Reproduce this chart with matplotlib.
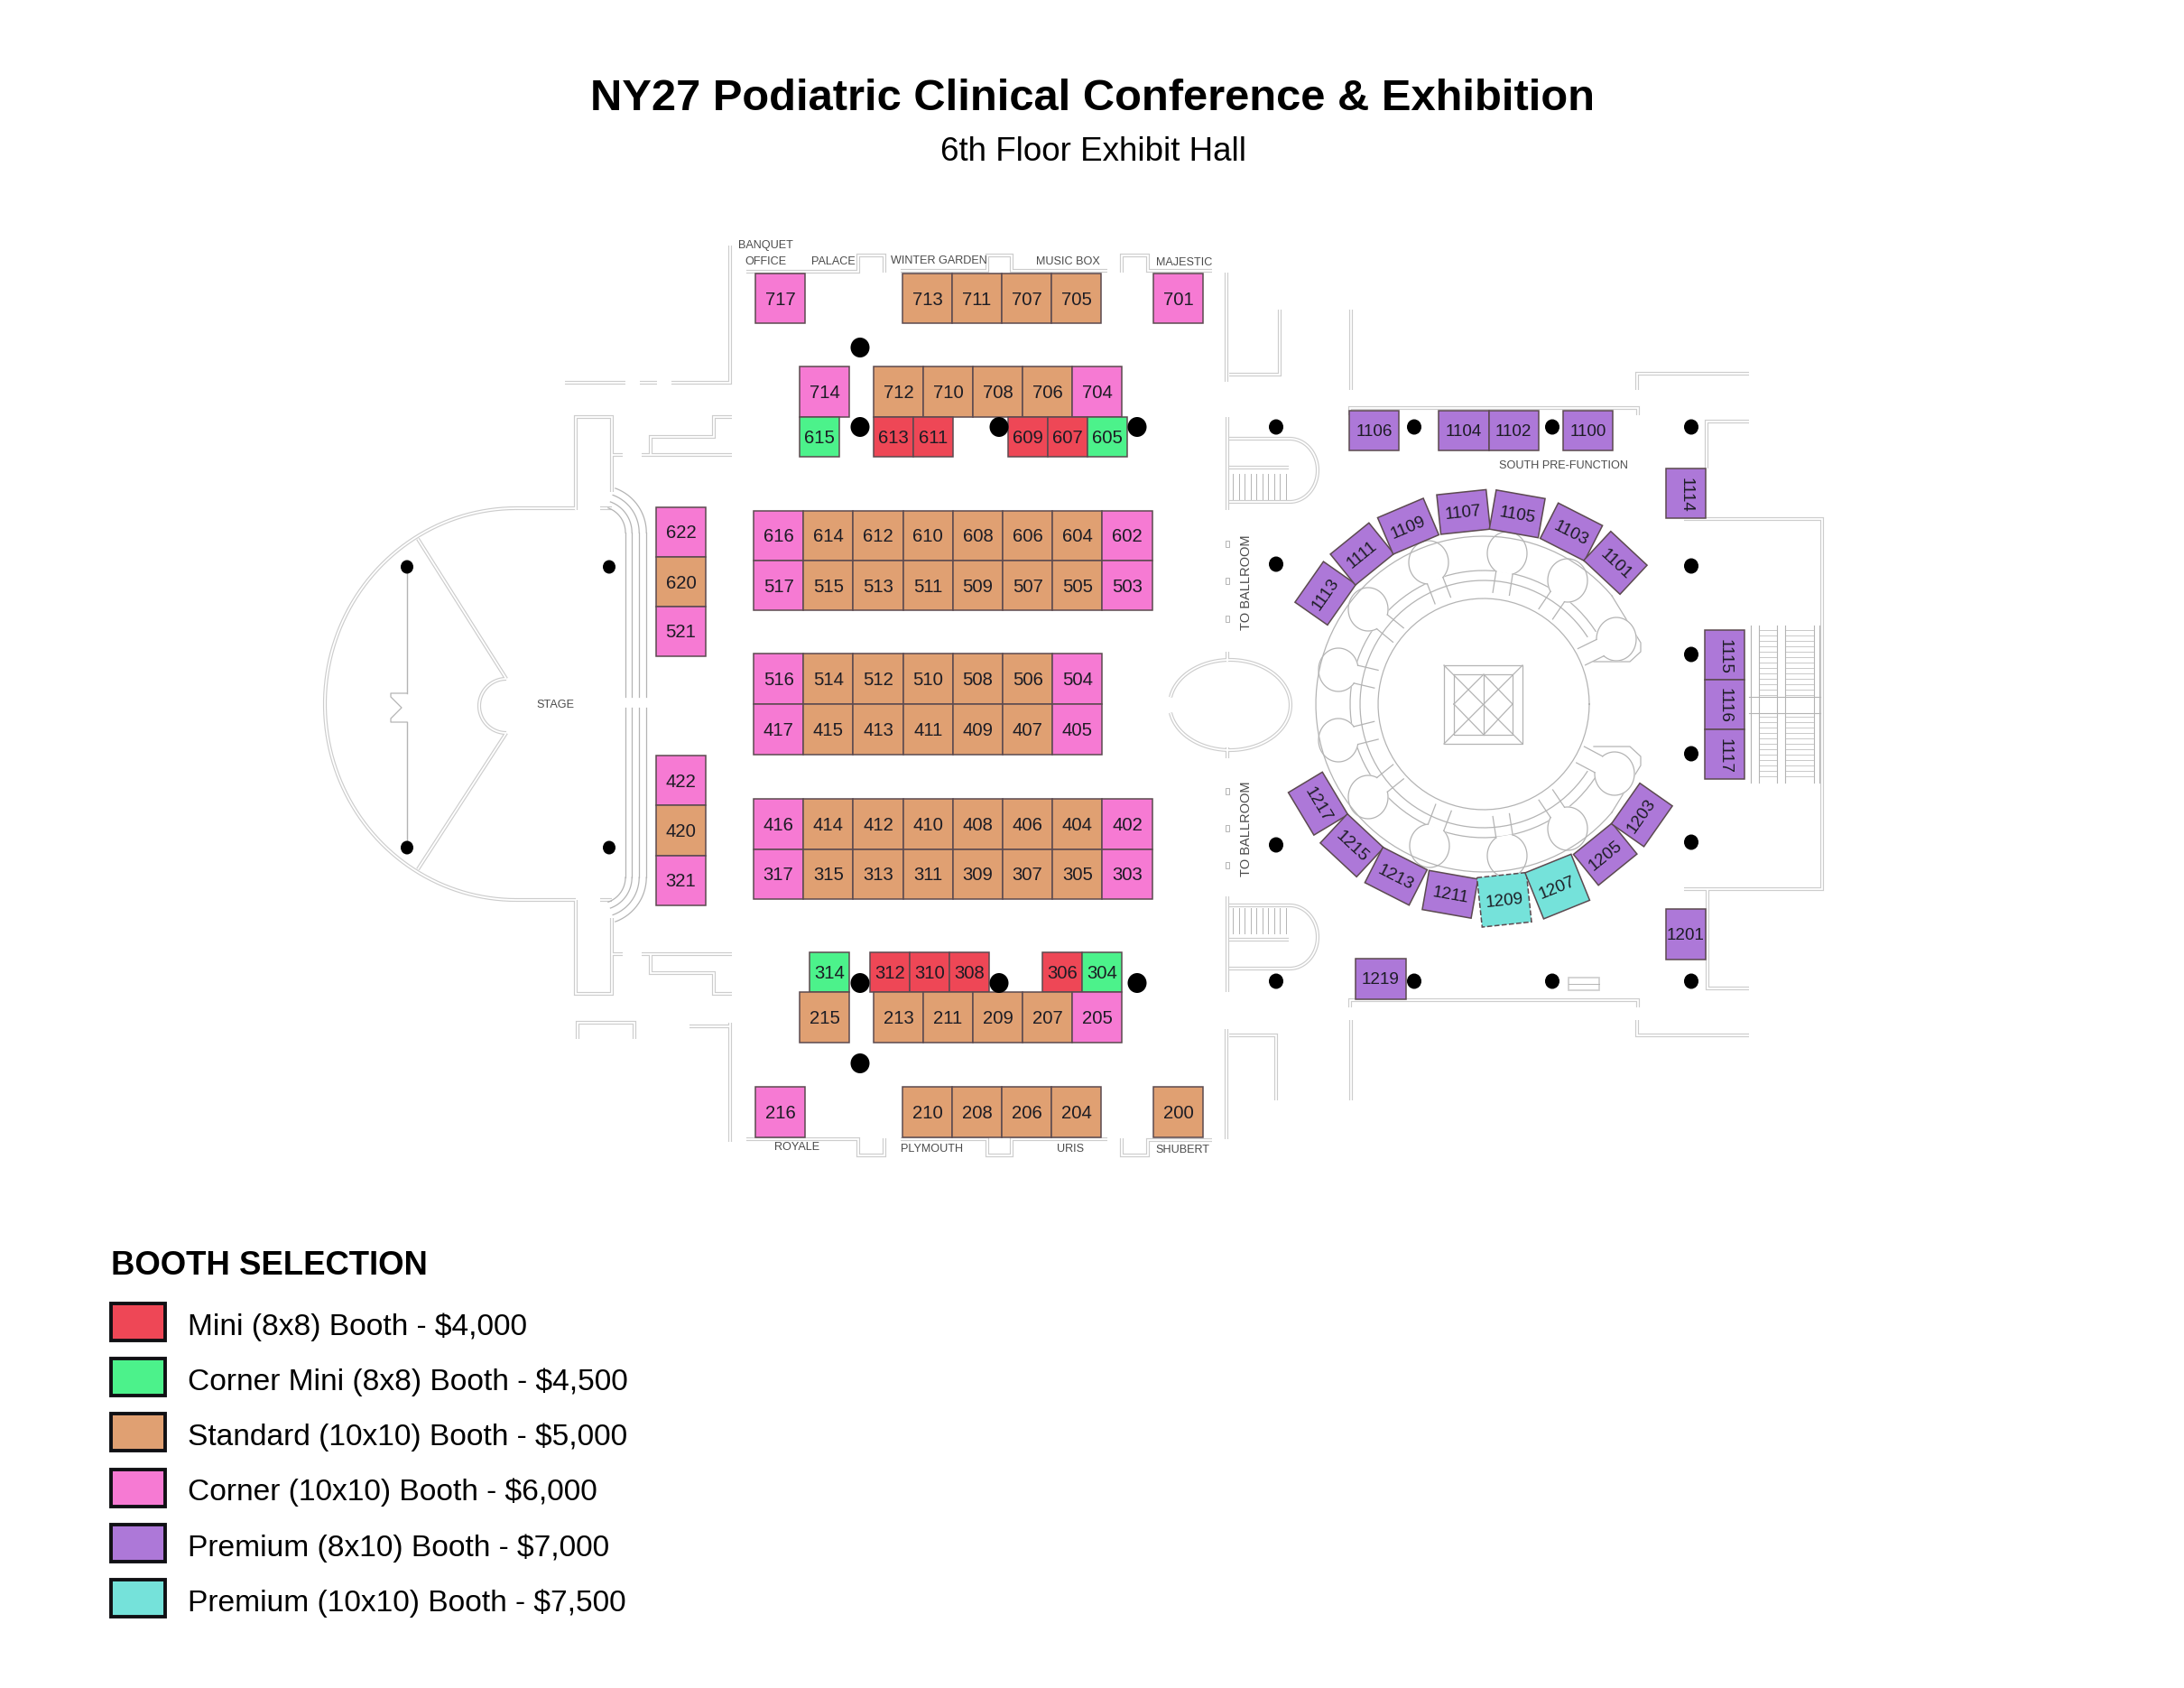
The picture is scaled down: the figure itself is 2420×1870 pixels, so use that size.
import numpy as np
import matplotlib
matplotlib.use('Agg')
import matplotlib.pyplot as plt
from matplotlib.patches import Rectangle, Polygon, Ellipse

# booth numbers and price class, row by row
# M mini, C corner mini, S standard, K corner, P premium 8x10, T premium 10x10
r717 = ['717']
r713 = ['713', '711', '707', '705']
r701 = ['701']
r714 = ['714']
r712 = ['712', '710', '708', '706', '704']
r712_kinds = ['S', 'S', 'S', 'S', 'K']
r615 = ['615']
r613 = ['613', '611']
r609 = ['609', '607', '605']
r609_kinds = ['M', 'M', 'C']
col622 = ['622', '620', '521']
col622_kinds = ['K', 'S', 'K']
r616 = ['616', '614', '612', '610', '608', '606', '604', '602']
r517 = ['517', '515', '513', '511', '509', '507', '505', '503']
r516 = ['516', '514', '512', '510', '508', '506', '504']
r417 = ['417', '415', '413', '411', '409', '407', '405']
col422 = ['422', '420', '321']
col422_kinds = ['K', 'S', 'K']
r416 = ['416', '414', '412', '410', '408', '406', '404', '402']
r317 = ['317', '315', '313', '311', '309', '307', '305', '303']
r314 = ['314']
r312 = ['312', '310', '308']
r306 = ['306', '304']
r306_kinds = ['M', 'C']
r215 = ['215']
r213 = ['213', '211', '209', '207', '205']
r213_kinds = ['S', 'S', 'S', 'S', 'K']
r216 = ['216']
r210 = ['210', '208', '206', '204']
r200 = ['200']
r1106 = ['1106']
r1104 = ['1104', '1102']
r1100 = ['1100']
col1115 = ['1115', '1116', '1117']
ring_top = ['1113', '1111', '1109', '1107', '1105', '1103', '1101']
ring_bottom = ['1217', '1215', '1213', '1211', '1209', '1207', '1205', '1203']
ring_bottom_kinds = ['P', 'P', 'P', 'P', 'T', 'T', 'P', 'P']

legend_names = ['Mini (8x8) Booth - $4,000', 'Corner Mini (8x8) Booth - $4,500',
                'Standard (10x10) Booth - $5,000', 'Corner (10x10) Booth - $6,000',
                'Premium (8x10) Booth - $7,000', 'Premium (10x10) Booth - $7,500']
legend_kinds = ['M', 'C', 'S', 'K', 'P', 'T']
colors = {'M': '#ee4756', 'C': '#4cf28b', 'S': '#e0a072',
          'K': '#f67ad3', 'P': '#ad78d8', 'T': '#75e2da'}

plt.rcParams['font.family'] = ['Liberation Sans', 'DejaVu Sans']

fig = plt.figure(figsize=(24.2, 18.7), dpi=100)
ax = fig.add_axes([0, 0, 1, 1])
ax.set_xlim(0, 2420)
ax.set_ylim(1870, 0)
ax.axis('off')

EDGE = '#5c4a50'
WALL = '#cdcdcd'
THIN = '#b4b4b4'


def wall(xs, ys):
    # double line look: thick grey with white core
    ax.plot(xs, ys, color=WALL, lw=3.0, solid_joinstyle='miter', solid_capstyle='butt', zorder=1)
    ax.plot(xs, ys, color='white', lw=1.3, solid_joinstyle='miter', solid_capstyle='butt', zorder=1.1)


def thin(xs, ys, lw=0.9, z=1.2):
    ax.plot(xs, ys, color=THIN, lw=lw, zorder=z)


def arc_pts(cx, cy, rx, ry, t0, t1):
    t = np.radians(np.linspace(t0, t1, 90))
    return cx + rx * np.cos(t), cy - ry * np.sin(t)


def label(x, y, txt, rot=0):
    size = 14.6 if len(txt) == 3 else 13.6
    ax.text(x, y + 1.5, txt, ha='center', va='center', rotation=rot, rotation_mode='anchor',
            fontsize=size, color='#1c1c24', zorder=4)


def row(labels, kinds, x0, y0, w, h):
    if isinstance(kinds, str):
        kinds = [kinds] * len(labels)
    for i, (b, k) in enumerate(zip(labels, kinds)):
        ax.add_patch(Rectangle((x0 + i * w, y0), w, h, fc=colors[k], ec=EDGE, lw=1.1, zorder=3))
        label(x0 + i * w + w / 2, y0 + h / 2, b)


def col(labels, kinds, x0, y0, w, h, rot=0):
    if isinstance(kinds, str):
        kinds = [kinds] * len(labels)
    for i, (b, k) in enumerate(zip(labels, kinds)):
        ax.add_patch(Rectangle((x0, y0 + i * h), w, h, fc=colors[k], ec=EDGE, lw=1.1, zorder=3))
        label(x0 + w / 2, y0 + i * h + h / 2, b, rot=rot)


def tilted(cx, cy, rot, w, h, b, k):
    a = np.radians(rot)
    pts = []
    for u, v in [(-w / 2, -h / 2), (w / 2, -h / 2), (w / 2, h / 2), (-w / 2, h / 2)]:
        pts.append((cx + u * np.cos(a) + v * np.sin(a), cy - u * np.sin(a) + v * np.cos(a)))
    ls = '--' if b == '1209' else '-'
    ax.add_patch(Polygon(pts, closed=True, fc=colors[k], ec=EDGE, lw=1.1, ls=ls, zorder=3))
    label(cx, cy, b, rot=rot)


def dot(x, y, r):
    ax.add_patch(Ellipse((x, y), 2 * r, 2 * r + 1, fc='black', ec='none', zorder=3.5))


def room(x, y, txt, rot=0, size=9.1):
    ax.text(x, y, txt, ha='center', va='center', rotation=rot, fontsize=size,
            color='#4a4a4a', zorder=2)


# ---------- building outline, left block ----------
wall([626, 693], [424, 424])
wall([709, 728], [424, 424])
wall([744, 809, 809], [424, 424, 272])
wall([827, 951, 951, 980, 980], [301, 301, 283, 283, 302])
wall([998, 1094, 1094, 1121, 1121, 1227], [300, 300, 283, 283, 300, 300])
wall([1243, 1243, 1272, 1272, 1343], [302, 283, 283, 300, 300])
wall([1359, 1359], [302, 423])
wall([1362, 1418, 1418], [415, 415, 343])
wall([1497, 1497], [343, 432])

wall([809, 809], [1133, 1265])
wall([764, 809], [1137, 1137])
wall([640, 640, 703, 703], [1151, 1133, 1133, 1151])
wall([827, 951, 951, 980, 980], [1262, 1262, 1280, 1280, 1261])
wall([998, 1094, 1094, 1121, 1121, 1227], [1262, 1262, 1280, 1280, 1262, 1262])
wall([1243, 1243, 1272, 1272, 1343], [1261, 1280, 1280, 1263, 1263])
wall([1359, 1359], [1140, 1262])
wall([1362, 1414, 1414], [1147, 1147, 1219])
wall([1497, 1497], [1130, 1219])

# side rooms next to the stage
wall([678, 690], [504, 504])
wall([711, 811], [504, 504])
wall([721, 721, 791, 791, 811], [504, 484, 484, 462, 462])
wall([678, 690], [1057, 1057])
wall([711, 811], [1057, 1057])
wall([721, 721, 791, 791, 811], [1057, 1078, 1078, 1101, 1101])

# stage
wall([638, 638, 678, 678], [565, 462, 462, 545])
wall([638, 638, 678, 678], [997, 1101, 1101, 1017])
wall([572, 638], [563, 563])
wall([665, 678], [563, 563])
wall([572, 638], [997, 997])
wall([665, 678], [997, 997])
xs, ys = arc_pts(572, 780, 212, 217, 90, 270)
wall(xs, ys)
thin([451, 451], [628, 768], 1.0)
thin([451, 433, 433, 445, 433, 433, 451], [768, 768, 772, 784, 796, 800, 800], 0.9)
thin([451, 451], [800, 939], 1.0)
wall([463, 561], [597, 752])
xs, ys = arc_pts(561, 782, 30, 30, 90, 270)
wall(xs, ys)
wall([561, 463], [812, 963])

# curved steps at the stage front
for off in [0, 9, 19, 29]:
    xs, ys = arc_pts(664, 590, 29 + off * 0.8, 29 + off * 0.8, 0, 70)
    thin(xs, ys, 0.9)
    xs, ys = arc_pts(664, 972, 29 + off * 0.8, 29 + off * 0.8, 290, 360)
    thin(xs, ys, 0.9)
    thin([693 + off * 0.8] * 2, [590, 772], 0.9)
    thin([693 + off * 0.8] * 2, [784, 972], 0.9)

# ---------- lobby oval and stairs ----------
xs, ys = arc_pts(1363, 781, 67, 50, -170, 170)
wall(xs, ys)
wall([1360, 1360], [722, 733])
wall([1360, 1360], [828, 840])

wall([1360, 1360], [462, 565])
wall([1360, 1360], [993, 1099])
for y0, flip in [(521, 1), (1038, -1)]:
    xs, ys = arc_pts(1429, y0, 31, 35, -90, 90)
    wall([1362] + list(xs) + [1362], [y0 + 35] + list(ys) + [y0 - 35])
    wall([1362, 1428], [y0 - 3 * flip, y0 - 3 * flip])
    for x in np.arange(1366, 1426, 6.5):
        thin([x, x], [y0 + 4 * flip, y0 + 32 * flip], 0.7)

for y in [602, 643, 685, 876, 917, 958]:
    ax.add_patch(Rectangle((1358, y - 3), 4, 7, fc='white', ec=THIN, lw=0.7, zorder=1.2))

# ---------- right block ----------
wall([1496, 1496, 1815, 1815], [460, 452, 452, 460])
wall([1814, 1814, 1938], [432, 414, 414])
wall([1938, 1891, 1891], [467, 467, 519])
wall([1866, 2019, 2019, 1866], [575, 575, 985, 985])
wall([1892, 1892, 1938], [985, 1095, 1095])
wall([1496, 1496, 1815, 1815], [1116, 1108, 1108, 1116])
wall([1814, 1814, 1938], [1130, 1147, 1147])
ax.add_patch(Rectangle((1738, 1083), 34, 14, fc='white', ec=WALL, lw=1.2, zorder=1.2))
thin([1738, 1772], [1090, 1090], 0.7)

# escalators
for x in [1940, 1949, 1969, 1978, 2010, 2016]:
    thin([x, x], [693, 867], 0.8)
thin([1938, 2017], [772, 772], 0.8)
thin([1938, 2017], [790, 790], 0.8)
for y in list(np.arange(698, 772, 6)) + list(np.arange(794, 866, 6)):
    thin([1949, 1969], [y, y], 0.5)
    thin([1978, 2010], [y, y], 0.5)

# rotunda
CX, CY = 1644, 780
xs, ys = arc_pts(CX, CY, 117, 117, 0, 360)
thin(xs, ys)
for r in [137, 148]:
    xs, ys = arc_pts(CX, CY, r, r, 33, 327)
    thin(xs, ys)
for sx, sy in [(1583, 623), (1670, 613), (1737, 643), (1791, 708), (1516, 675), (1483, 742),
               (1483, 820), (1516, 883), (1584, 937), (1670, 948), (1737, 918), (1789, 857)]:
    # balloon shapes around the ring, neck towards the centre
    ang = np.degrees(np.arctan2(-(CY - sy), CX - sx))
    xs, ys = arc_pts(sx, sy, 22, 24, ang + 25, ang + 335)
    ax.fill(xs, ys, color='white', zorder=1.25)
    thin(xs, ys, z=1.3)
    thin([xs[0], xs[0] + (CX - sx) * 0.14], [ys[0], ys[0] + (CY - sy) * 0.14], z=1.3)
    thin([xs[-1], xs[-1] + (CX - sx) * 0.14], [ys[-1], ys[-1] + (CY - sy) * 0.14], z=1.3)
xs, ys = arc_pts(CX, CY, 186, 186, 40, 320)
thin(xs, ys, z=1.3)
thin([1786, 1818, 1818, 1806, 1766], [660, 712, 722, 733, 733])
thin([1786, 1818, 1818, 1806, 1766], [900, 848, 838, 827, 827])

thin([1600, 1687, 1687, 1600, 1600], [737, 737, 824, 824, 737])
thin([1611, 1676, 1676, 1611, 1611], [747, 747, 814, 814, 747])
thin([1600, 1687], [737, 824])
thin([1600, 1687], [824, 737])
thin([1611, 1644, 1676, 1644, 1611], [780, 747, 780, 814, 780])
thin([1644, 1644], [747, 814])

# ---------- booths ----------
row(r717, 'K', 837, 303, 55, 55)
row(r713, 'S', 1000, 303, 55, 55)
row(r701, 'K', 1278, 303, 55, 55)
row(r714, 'K', 886, 406, 55, 56)
row(r712, r712_kinds, 968, 406, 55, 56)
row(r615, 'C', 886, 462, 44, 44)
row(r613, 'M', 968, 462, 44, 44)
row(r609, r609_kinds, 1117, 462, 44, 44)
col(col622, col622_kinds, 727, 562, 55, 55)
row(r616, ['K'] + ['S'] * 6 + ['K'], 835, 566, 55.2, 55)
row(r517, ['K'] + ['S'] * 6 + ['K'], 835, 621, 55.2, 55)
row(r516, ['K'] + ['S'] * 5 + ['K'], 835, 724, 55.2, 56)
row(r417, ['K'] + ['S'] * 5 + ['K'], 835, 780, 55.2, 56)
col(col422, col422_kinds, 727, 837, 55, 55.3)
row(r416, ['K'] + ['S'] * 6 + ['K'], 835, 885, 55.2, 55.5)
row(r317, ['K'] + ['S'] * 6 + ['K'], 835, 940.5, 55.2, 55.5)
row(r314, 'C', 897, 1055, 44, 44)
row(r312, 'M', 964, 1055, 44, 44)
row(r306, r306_kinds, 1155, 1055, 44, 44)
row(r215, 'S', 886, 1099, 55, 56)
row(r213, r213_kinds, 968, 1099, 55, 56)
row(r216, 'K', 837, 1204, 55, 56)
row(r210, 'S', 1000, 1204, 55, 56)
row(r200, 'S', 1278, 1204, 55, 56)

row(r1106, 'P', 1495, 455, 55, 44)
row(r1104, 'P', 1594, 455, 55.5, 44)
row(r1100, 'P', 1732, 455, 55, 44)
col(['1114'], 'P', 1846, 519, 44, 55, rot=-90)
col(col1115, 'P', 1889, 698, 44, 55, rot=-90)
col(['1201'], 'P', 1846, 1007, 44, 56)
row(['1219'], 'P', 1502, 1062, 56, 45)

# ring booths, turned around the rotunda centre
for b, rot in zip(ring_top, [55, 39, 23, 6, -10, -27, -43]):
    a = np.radians(rot)
    tilted(CX - 214 * np.sin(a), CY - 214 * np.cos(a), rot, 55, 44, b, 'P')
for b, k, rot in zip(ring_bottom, ring_bottom_kinds, [-59, -43, -27, -10, 6, 22, 39, 55]):
    a = np.radians(rot)
    r = 218 if k == 'T' else 214
    h = 55 if k == 'T' else 44
    tilted(CX + r * np.sin(a), CY + r * np.cos(a), rot, 55, h, b, k)

# ---------- columns ----------
for x, y in [(953, 385), (953, 473), (1107, 473), (1260, 473),
             (953, 1089), (1107, 1089), (1260, 1089), (953, 1178)]:
    dot(x, y, 10.5)
for x, y in [(451, 628), (675, 628), (451, 939), (675, 939)]:
    dot(x, y, 7)
for x, y in [(1414, 473), (1567, 473), (1720, 473), (1874, 473), (1414, 625), (1874, 627),
             (1874, 725), (1874, 835), (1414, 936), (1874, 933), (1414, 1087), (1567, 1087),
             (1720, 1087), (1874, 1087)]:
    dot(x, y, 8)

# ---------- room names ----------
room(848, 272, 'BANQUET')
room(848, 290, 'OFFICE')
room(923, 290, 'PALACE')
room(1040, 289, 'WINTER GARDEN')
room(1183, 290, 'MUSIC BOX')
room(1312, 291, 'MAJESTIC')
room(883, 1271, 'ROYALE')
room(1033, 1273, 'PLYMOUTH')
room(1186, 1273, 'URIS')
room(1310, 1274, 'SHUBERT')
room(615, 781, 'STAGE')
room(1732, 516, 'SOUTH PRE-FUNCTION')
ax.text(1381, 645, 'TO BALLROOM', ha='center', va='center', rotation=90, fontsize=10.5, color='#4a4a4a')
ax.text(1381, 918, 'TO BALLROOM', ha='center', va='center', rotation=90, fontsize=10.5, color='#4a4a4a')

# ---------- titles and legend ----------
ax.text(1211, 109, 'NY27 Podiatric Clinical Conference & Exhibition', ha='center', va='center',
        fontsize=35.2, fontweight='bold', color='black')
ax.text(1211, 168, '6th Floor Exhibit Hall', ha='center', va='center', fontsize=26.5, color='black')
ax.text(123, 1402, 'BOOTH SELECTION', ha='left', va='center', fontsize=26.3, fontweight='bold', color='black')

for i, (name, k) in enumerate(zip(legend_names, legend_kinds)):
    y = 1441 + i * 61.2
    ax.add_patch(Rectangle((123, y + 3), 60, 41, fc=colors[k], ec='#101014', lw=2.8, zorder=3))
    ax.text(208, y + 29, name, ha='left', va='center', fontsize=24.1, color='black')

fig.savefig('out.png', dpi=100, facecolor='white')
